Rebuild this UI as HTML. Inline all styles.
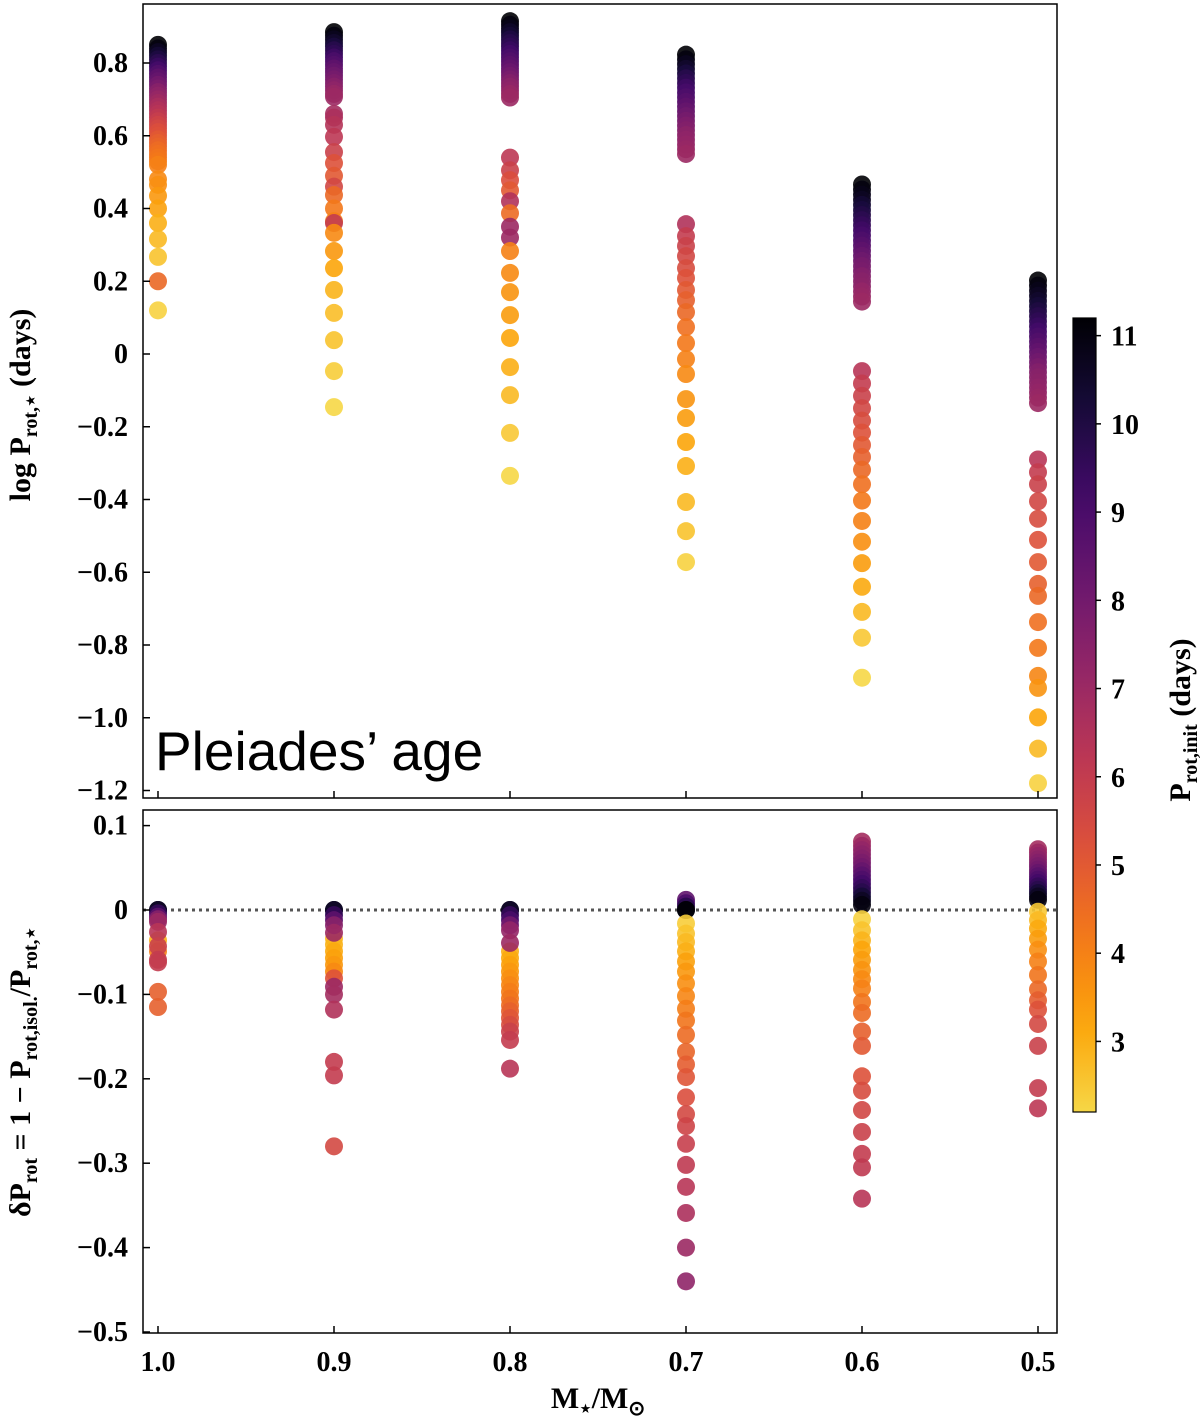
<!DOCTYPE html>
<html><head><meta charset="utf-8"><style>
html,body{margin:0;padding:0;background:#fff;}
svg{display:block;}
.tk{font-family:"Liberation Serif",serif;font-weight:bold;font-size:28px;fill:#000;}
.lab{font-family:"Liberation Serif",serif;font-weight:bold;font-size:30px;fill:#000;}
</style></head><body>
<svg id="chart" width="1200" height="1422" viewBox="0 0 1200 1422" xmlns="http://www.w3.org/2000/svg">
<defs>
<linearGradient id="cbgrad" x1="0" y1="1" x2="0" y2="0"></linearGradient>
<clipPath id="clipTop"><rect x="143" y="4" width="914" height="794"/></clipPath>
<clipPath id="clipBot"><rect x="143" y="810" width="914" height="523"/></clipPath>
</defs>
<g id="gTop" clip-path="url(#clipTop)"></g>
<g id="gBot" clip-path="url(#clipBot)"></g>
<g id="axes"></g>
<text x="155" y="770" font-family="'Liberation Sans',sans-serif" font-size="55" fill="#000">Pleiades’ age</text>
<text class="lab" transform="translate(30,405) rotate(-90)" text-anchor="middle">log P<tspan font-size="20" dy="7">rot,⋆</tspan><tspan dy="-7"> (days)</tspan></text>
<text class="lab" transform="translate(30,1072) rotate(-90)" text-anchor="middle">δP<tspan font-size="20" dy="7">rot</tspan><tspan dy="-7"> = 1 − P</tspan><tspan font-size="20" dy="7">rot,isol.</tspan><tspan dy="-7">/P</tspan><tspan font-size="20" dy="7">rot,⋆</tspan></text>
<text class="lab" x="598" y="1408" text-anchor="middle">M<tspan font-size="20" dy="7">⋆</tspan><tspan dy="-7">/M</tspan><tspan font-size="20" dy="7">⊙</tspan></text>
<text class="lab" transform="translate(1190,720) rotate(-90)" text-anchor="middle">P<tspan font-size="20" dy="7">rot,init</tspan><tspan dy="-7"> (days)</tspan></text>
</svg>
<script>
const masses = [1.0, 0.9, 0.8, 0.7, 0.6, 0.5];
const top10_logP = [0.85,0.84,0.83,0.82,0.81,0.80,0.79,0.78,0.77,0.76,0.75,0.74,0.73,0.72,0.71,0.70,0.69,0.68,0.67,0.66,0.65,0.64,0.63,0.62,0.61,0.60,0.59,0.58,0.57,0.56,0.55,0.54,0.53,0.52,0.48,0.465,0.435,0.40,0.36,0.316,0.267,0.20,0.12];
const top10_pinit = [11.2,11.0,10.6,10.3,10.0,9.7,9.4,9.1,8.8,8.5,8.3,8.0,7.8,7.5,7.3,7.1,6.9,6.7,6.5,6.3,6.1,5.9,5.7,5.5,5.3,5.2,5.0,4.8,4.7,4.5,4.4,4.3,4.2,4.0,3.8,3.7,3.5,3.3,3.0,2.8,2.6,4.6,2.3];
const top09_logP = [0.885,0.875,0.865,0.855,0.845,0.835,0.825,0.815,0.805,0.795,0.785,0.775,0.765,0.755,0.745,0.735,0.725,0.715,0.707,0.66,0.65,0.63,0.597,0.555,0.525,0.49,0.46,0.437,0.40,0.365,0.36,0.333,0.283,0.236,0.176,0.113,0.038,-0.047,-0.146];
const top09_pinit = [11.2,11.0,10.7,10.4,10.1,9.8,9.6,9.3,9.0,8.8,8.5,8.3,8.1,7.9,7.7,7.5,7.3,7.1,7.0,6.8,6.6,6.4,6.2,5.8,5.2,5.0,5.6,4.6,4.2,4.0,6.0,3.8,3.5,3.2,2.9,2.7,2.6,2.4,2.2];
const top08_logP = [0.915,0.905,0.895,0.885,0.875,0.865,0.855,0.845,0.835,0.825,0.815,0.805,0.795,0.785,0.775,0.765,0.755,0.745,0.735,0.725,0.715,0.705,0.54,0.505,0.478,0.45,0.42,0.387,0.35,0.32,0.283,0.223,0.17,0.107,0.044,-0.036,-0.113,-0.217,-0.335];
const top08_pinit = [11.2,11.0,10.8,10.5,10.3,10.0,9.8,9.6,9.4,9.2,9.0,8.8,8.6,8.4,8.2,8.0,7.8,7.6,7.4,7.3,7.1,7.0,6.2,5.8,5.3,5.0,6.5,4.5,7.0,7.0,4.0,3.8,3.6,3.4,3.2,3.0,2.8,2.5,2.2];
const top07_logP = [0.823,0.81,0.797,0.784,0.771,0.758,0.745,0.732,0.719,0.706,0.693,0.68,0.667,0.654,0.641,0.628,0.615,0.602,0.589,0.576,0.563,0.55,0.357,0.324,0.297,0.269,0.236,0.209,0.176,0.148,0.115,0.074,0.03,-0.014,-0.055,-0.124,-0.176,-0.242,-0.308,-0.407,-0.487,-0.572];
const top07_pinit = [11.2,11.0,10.7,10.4,10.1,9.8,9.6,9.3,9.1,8.9,8.7,8.5,8.3,8.1,7.9,7.7,7.6,7.4,7.3,7.2,7.1,7.0,6.5,6.0,5.8,5.6,5.4,5.2,5.0,4.8,4.6,4.4,4.2,4.0,3.8,3.6,3.4,3.2,3.0,2.8,2.6,2.3];
const top06_logP = [0.466,0.452,0.438,0.424,0.41,0.396,0.382,0.368,0.354,0.34,0.326,0.312,0.298,0.284,0.27,0.256,0.242,0.228,0.214,0.2,0.186,0.172,0.158,0.144,-0.047,-0.081,-0.115,-0.149,-0.183,-0.216,-0.25,-0.283,-0.318,-0.358,-0.403,-0.459,-0.516,-0.575,-0.64,-0.709,-0.78,-0.89];
const top06_pinit = [11.2,11.0,10.8,10.6,10.3,10.1,9.9,9.7,9.5,9.3,9.1,8.9,8.7,8.5,8.3,8.1,7.9,7.8,7.6,7.5,7.4,7.2,7.1,7.0,6.3,6.0,5.8,5.6,5.4,5.2,5.0,4.8,4.6,4.4,4.2,4.0,3.7,3.4,3.1,2.8,2.5,2.2];
const top05_logP = [0.202,0.188,0.174,0.16,0.146,0.132,0.118,0.104,0.09,0.076,0.062,0.048,0.034,0.02,0.006,-0.008,-0.022,-0.036,-0.05,-0.064,-0.078,-0.092,-0.106,-0.12,-0.135,-0.29,-0.325,-0.358,-0.405,-0.453,-0.511,-0.572,-0.632,-0.665,-0.737,-0.808,-0.885,-0.918,-0.999,-1.085,-1.18];
const top05_pinit = [11.2,11.0,10.8,10.6,10.4,10.2,10.0,9.8,9.6,9.4,9.2,9.0,8.8,8.6,8.4,8.2,8.0,7.8,7.6,7.5,7.4,7.3,7.2,7.1,7.0,6.3,6.0,5.8,5.6,5.4,5.2,5.0,4.8,4.6,4.4,4.2,3.9,3.6,3.2,2.8,2.3];

const bot10_delta = [-0.036,-0.049,0,0,-0.004,-0.008,-0.011,-0.014,-0.026,-0.043,-0.059,-0.062,-0.097,-0.115];
const bot10_pinit = [3.0,4.0,11.2,10.5,9.5,8.5,7.5,7.0,6.3,5.8,6.0,6.0,4.8,4.8];
const bot09_delta = [-0.034,-0.041,-0.049,-0.057,-0.065,-0.073,0,0,-0.006,-0.012,-0.018,-0.027,-0.081,-0.091,-0.1,-0.118,-0.18,-0.196,-0.28];
const bot09_pinit = [2.8,2.9,3.1,3.3,3.5,3.8,11.2,10.5,9.5,8.5,7.5,7.0,5.2,7.0,6.8,6.5,6.0,6.0,5.5];
const bot08_delta = [-0.049,-0.057,-0.065,-0.073,-0.081,-0.089,-0.097,-0.105,-0.113,-0.12,-0.128,-0.136,-0.144,-0.154,-0.188,0,0,-0.006,-0.012,-0.018,-0.024,-0.039];
const bot08_pinit = [3.0,3.1,3.3,3.5,3.7,3.9,4.1,4.3,4.5,4.8,5.1,5.4,5.8,6.0,6.3,11.2,10.5,9.5,9.0,8.0,7.2,7.0];
const bot07_delta = [0.012,0.008,0.004,0,0,-0.016,-0.028,-0.038,-0.049,-0.061,-0.073,-0.087,-0.102,-0.117,-0.131,-0.148,-0.168,-0.183,-0.198,-0.222,-0.242,-0.256,-0.277,-0.302,-0.328,-0.359,-0.4,-0.44];
const bot07_pinit = [8.5,9.0,9.8,10.5,11.2,2.4,2.6,2.8,3.0,3.3,3.5,3.7,3.9,4.1,4.3,4.5,4.7,4.9,5.1,5.3,5.5,5.7,5.9,6.1,6.3,6.6,7.0,7.3];
const bot06_delta = [0.081,0.076,0.071,0.066,0.061,0.056,0.051,0.046,0.041,0.036,0.031,0.026,0.021,0.016,0.011,0.006,-0.011,-0.024,-0.036,-0.047,-0.059,-0.071,-0.082,-0.093,-0.109,-0.122,-0.144,-0.161,-0.197,-0.214,-0.237,-0.263,-0.289,-0.305,-0.342];
const bot06_pinit = [6.8,7.0,7.2,7.4,7.6,7.8,8.0,8.3,8.6,8.9,9.2,9.5,9.8,10.2,10.6,11.0,2.3,2.6,2.9,3.2,3.4,3.6,3.8,4.0,4.3,4.5,4.8,5.0,5.2,5.4,5.6,5.8,6.0,6.1,6.3];
const bot05_delta = [0.072,0.068,0.064,0.06,0.056,0.052,0.048,0.044,0.04,0.036,0.032,0.028,0.024,0.02,0.016,0.012,-0.002,-0.012,-0.022,-0.034,-0.047,-0.061,-0.077,-0.094,-0.107,-0.118,-0.135,-0.161,-0.211,-0.235];
const bot05_pinit = [6.8,7.0,7.2,7.4,7.6,7.8,8.0,8.3,8.6,8.9,9.2,9.5,9.8,10.2,10.6,11.0,2.5,2.8,3.1,3.4,3.7,4.0,4.3,4.6,4.9,5.2,5.5,5.8,6.0,6.2];

const topTicks = [0.8,0.6,0.4,0.2,0,-0.2,-0.4,-0.6,-0.8,-1.0,-1.2];
const topTickLabels = ["0.8","0.6","0.4","0.2","0","−0.2","−0.4","−0.6","−0.8","−1.0","−1.2"];
const botTicks = [0.1,0,-0.1,-0.2,-0.3,-0.4,-0.5];
const botTickLabels = ["0.1","0","−0.1","−0.2","−0.3","−0.4","−0.5"];
const xTicks = [1.0,0.9,0.8,0.7,0.6,0.5];
const xTickLabels = ["1.0","0.9","0.8","0.7","0.6","0.5"];
const cbTicks = [3,4,5,6,7,8,9,10,11];

const topSeries = [[top10_logP,top10_pinit],[top09_logP,top09_pinit],[top08_logP,top08_pinit],[top07_logP,top07_pinit],[top06_logP,top06_pinit],[top05_logP,top05_pinit]];
const botSeries = [[bot10_delta,bot10_pinit],[bot09_delta,bot09_pinit],[bot08_delta,bot08_pinit],[bot07_delta,bot07_pinit],[bot06_delta,bot06_pinit],[bot05_delta,bot05_pinit]];

const NS = "http://www.w3.org/2000/svg";
const X = m => 158 + (1.0 - m) * 1760;
const YT = v => 354 - v * 363.75;
const YB = v => 910 - v * 844;
const CMIN = 2.2, CMAX = 11.2;
const YC = v => 1112 - (v - CMIN) / (CMAX - CMIN) * 794;

const inf = [[0,0,0,4],[0.1,22,11,57],[0.2,66,10,104],[0.3,106,23,110],[0.4,147,38,103],[0.5,188,55,84],[0.6,221,81,58],[0.7,243,120,25],[0.8,252,165,10],[0.9,246,215,70],[1,252,255,164]];
function inferno(t){
  t=Math.max(0,Math.min(1,t));
  for(let i=0;i<inf.length-1;i++){
    const a=inf[i],b=inf[i+1];
    if(t<=b[0]){const f=(t-a[0])/(b[0]-a[0]);
      return `rgb(${Math.round(a[1]+(b[1]-a[1])*f)},${Math.round(a[2]+(b[2]-a[2])*f)},${Math.round(a[3]+(b[3]-a[3])*f)})`;}
  }
  return "rgb(252,255,164)";
}
const col = p => inferno(0.9 * (1 - (p - CMIN) / (CMAX - CMIN)));

const gTop = document.getElementById('gTop');
const gBot = document.getElementById('gBot');
const axes = document.getElementById('axes');
function mk(tag, attrs, parent){const e=document.createElementNS(NS,tag);for(const k in attrs)e.setAttribute(k,attrs[k]);parent.appendChild(e);return e;}

topSeries.forEach((s,i)=>{
  s[0].forEach((v,j)=>{
    const c=mk('circle',{cx:X(masses[i]),cy:YT(v),r:9,fill:col(s[1][j]),'fill-opacity':0.9},gTop);
    
    
  });
});
const zl=mk('line',{x1:143,x2:1057,y1:YB(0),y2:YB(0),stroke:'#555','stroke-width':3,'stroke-dasharray':'3,4'},gBot);


botSeries.forEach((s,i)=>{
  s[0].forEach((v,j)=>{
    const c=mk('circle',{cx:X(masses[i]),cy:YB(v),r:9,fill:col(s[1][j]),'fill-opacity':0.9},gBot);
    
    
  });
});

const f1=mk('rect',{x:143,y:4,width:914,height:794,fill:'none',stroke:'#000','stroke-width':1.5},axes);


const f2=mk('rect',{x:143,y:810,width:914,height:523,fill:'none',stroke:'#000','stroke-width':1.5},axes);



topTicks.forEach((v,i)=>{
  mk('line',{x1:143,x2:150,y1:YT(v),y2:YT(v),stroke:'#000','stroke-width':1.5},axes);
  const t=mk('text',{x:128,y:YT(v)+9,'text-anchor':'end',class:'tk'},axes);
  t.textContent=topTickLabels[i];
  
  
});
botTicks.forEach((v,i)=>{
  mk('line',{x1:143,x2:150,y1:YB(v),y2:YB(v),stroke:'#000','stroke-width':1.5},axes);
  const t=mk('text',{x:128,y:YB(v)+9,'text-anchor':'end',class:'tk'},axes);
  t.textContent=botTickLabels[i];
  
  
});
xTicks.forEach((v,i)=>{
  mk('line',{x1:X(v),x2:X(v),y1:1333,y2:1326,stroke:'#000','stroke-width':1.5},axes);
  mk('line',{x1:X(v),x2:X(v),y1:798,y2:791,stroke:'#000','stroke-width':1.5},axes);
  const t=mk('text',{x:X(v),y:1371,'text-anchor':'middle',class:'tk'},axes);
  t.textContent=xTickLabels[i];
  
  
});

const grad=document.getElementById('cbgrad');
for(let k=0;k<=20;k++){
  const p=CMIN+(CMAX-CMIN)*k/20;
  mk('stop',{offset:(k/20),'stop-color':col(p)},grad);
}
const cb=mk('rect',{x:1073,y:318,width:23,height:794,fill:'url(#cbgrad)',stroke:'#000','stroke-width':1.2},axes);


cbTicks.forEach(v=>{
  mk('line',{x1:1096,x2:1101,y1:YC(v),y2:YC(v),stroke:'#000','stroke-width':1.5},axes);
  const t=mk('text',{x:1111,y:YC(v)+10,class:'tk'},axes);
  t.textContent=String(v);
  
  
});
</script>
</body></html>
